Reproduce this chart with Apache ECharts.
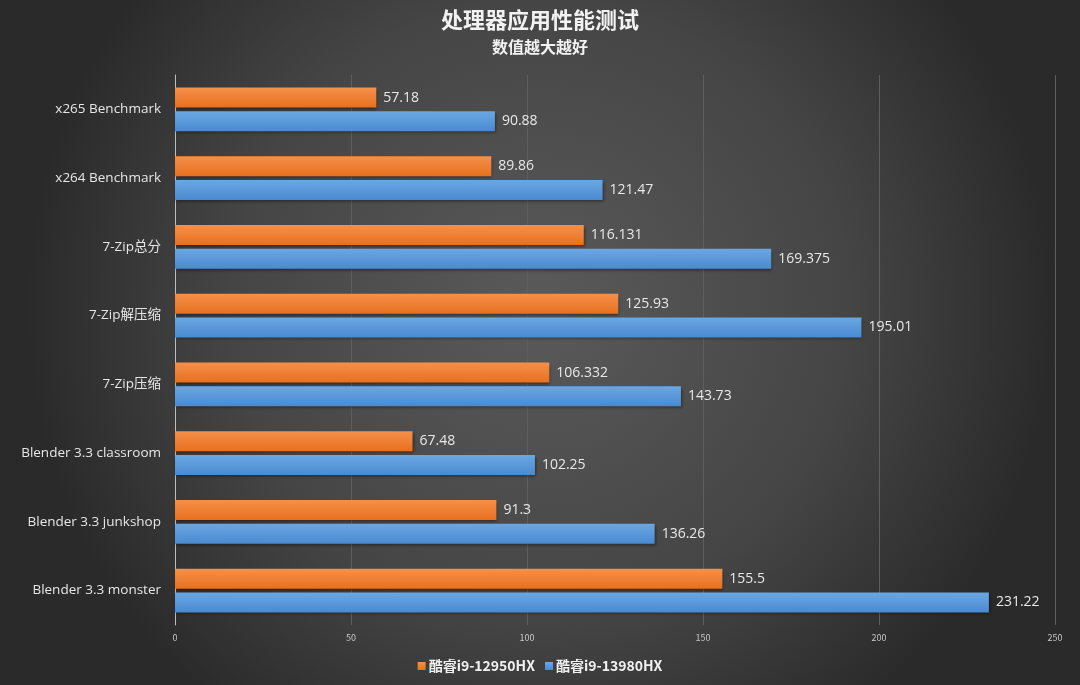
<!DOCTYPE html>
<html><head><meta charset="utf-8">
<script src="https://cdn.jsdelivr.net/npm/echarts@6/dist/echarts.min.js"></script>
<style>html,body{margin:0;padding:0;background:#3a3a3a;}#c{width:1080px;height:685px;}</style>
</head><body><div id="c"></div>
<script>
const categories = ['x265 Benchmark','x264 Benchmark','7-Zip总分','7-Zip解压缩','7-Zip压缩','Blender 3.3 classroom','Blender 3.3 junkshop','Blender 3.3 monster'];
const seriesNames = ['酷睿i9-12950HX','酷睿i9-13980HX'];
const values12950 = [57.18, 89.86, 116.131, 125.93, 106.332, 67.48, 91.3, 155.5];
const values13980 = [90.88, 121.47, 169.375, 195.01, 143.73, 102.25, 136.26, 231.22];
const xMin = 0, xMax = 250, xStep = 50;

const chart = echarts.init(document.getElementById('c'));
const font = '"Noto Sans CJK SC", "Open Sans", sans-serif';
function grad(top, bottom){
  return new echarts.graphic.LinearGradient(0,0,0,1,[{offset:0,color:top},{offset:1,color:bottom}]);
}
chart.setOption({
  backgroundColor: new echarts.graphic.RadialGradient(0.5,0.45,0.75,[
    {offset:0,color:'#5a5a5a'},{offset:0.6,color:'#454545'},{offset:1,color:'#2a2a2a'}]),
  textStyle:{fontFamily:font},
  title:[
    {text:'处理器应用性能测试', left:'center', top:4, textStyle:{color:'#f2f2f2', fontSize:22, fontWeight:'bold', fontFamily:font}},
    {text:'数值越大越好', left:'center', top:34, textStyle:{color:'#f2f2f2', fontSize:16, fontWeight:'bold', fontFamily:font}}
  ],
  legend:{
    data: seriesNames, bottom:7, left:'center', icon:'rect', itemWidth:8, itemHeight:8, itemGap:10,
    textStyle:{color:'#f0f0f0', fontSize:14, fontWeight:'bold', fontFamily:font, padding:[0,0,0,-2]}
  },
  grid:{left:175, top:75, width:880, height:550, containLabel:false},
  xAxis:{
    type:'value', min:xMin, max:xMax, interval:xStep,
    axisLine:{show:false}, axisTick:{show:false},
    axisLabel:{color:'#c8c8c8', fontSize:9, margin:8},
    splitLine:{show:true, lineStyle:{color:'#5e5e5e', width:1}}
  },
  yAxis:{
    type:'category', data:categories, inverse:true,
    axisLine:{show:true, lineStyle:{color:'#bdbdbd', width:1}}, axisTick:{show:false},
    axisLabel:{color:'#e6e6e6', fontSize:13.5, margin:14, fontFamily:'"Open Sans", "Noto Sans CJK SC", sans-serif'}
  },
  series:[
    {name:seriesNames[0], type:'bar', data:values12950, barWidth:20, barGap:'18%',
     itemStyle:{color:grad('#f5904a','#e8701f'), shadowColor:'rgba(0,0,0,0.4)', shadowBlur:3, shadowOffsetX:1, shadowOffsetY:2},
     label:{show:true, position:'right', color:'#e8e8e8', fontSize:14, distance:7, fontFamily:'"Open Sans", sans-serif'}},
    {name:seriesNames[1], type:'bar', data:values13980, barWidth:20,
     itemStyle:{color:grad('#6aa7e3','#4a8ad0'), shadowColor:'rgba(0,0,0,0.4)', shadowBlur:3, shadowOffsetX:1, shadowOffsetY:2},
     label:{show:true, position:'right', color:'#e8e8e8', fontSize:14, distance:7, fontFamily:'"Open Sans", sans-serif'}}
  ]
});
</script></body></html>
